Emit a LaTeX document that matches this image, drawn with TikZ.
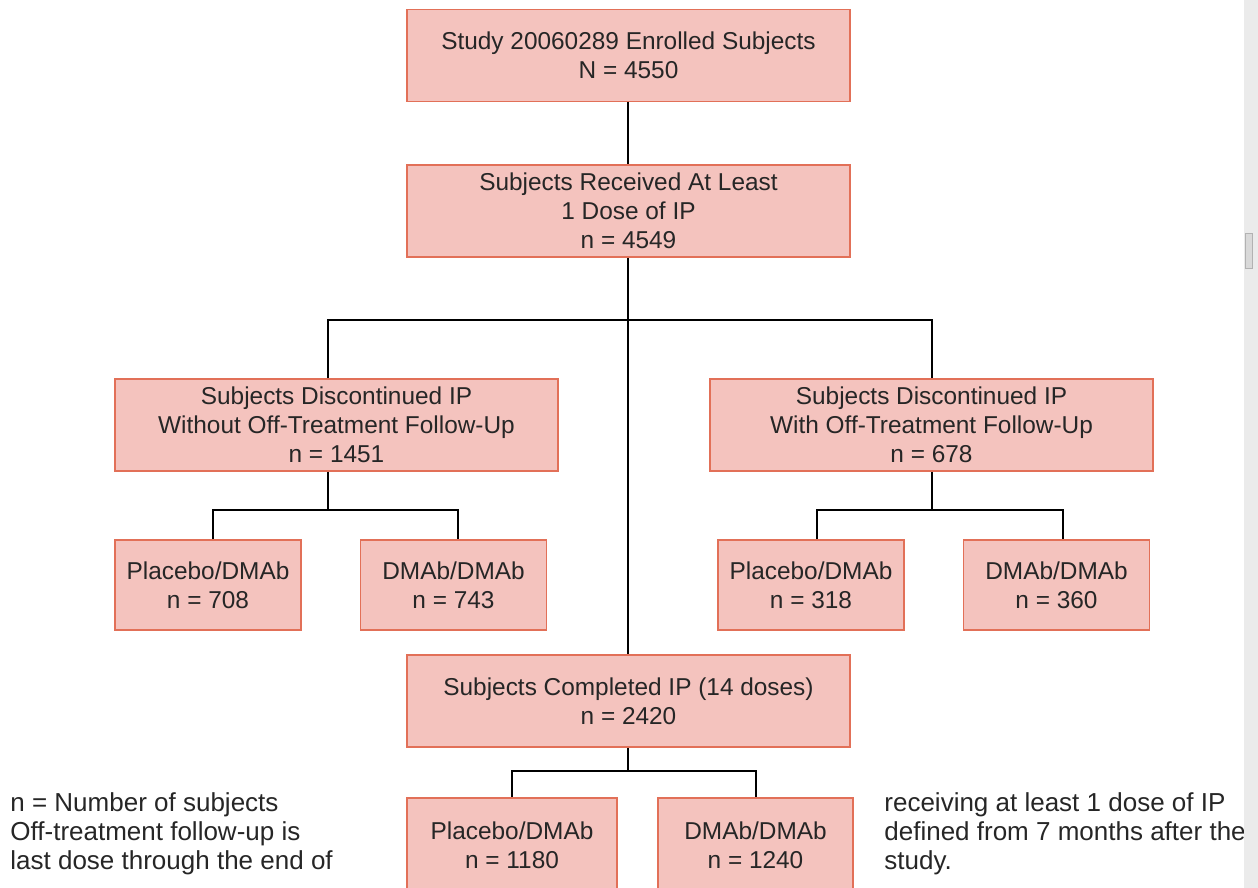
\documentclass[tikz,border=0pt]{standalone}
\usepackage{fontspec}
\setmainfont{Liberation Sans}
\usetikzlibrary{positioning, calc}

\definecolor{boxfill}{RGB}{244,195,190}
\definecolor{boxline}{RGB}{226,112,88}

\begin{document}
\begin{tikzpicture}[
    x=0.5pt, y=-0.5pt,
    box/.style   = {rectangle, draw=boxline, fill=boxfill, line width=0.8pt,
                    minimum width=221.5pt, minimum height=46pt, inner sep=2pt,
                    align=center, text=black!85,
                    font=\fontsize{12.2}{14.5}\selectfont},
    small/.style = {box, minimum width=93pt, minimum height=45pt},
    conn/.style  = {draw=black, line width=1pt},
    note/.style  = {font=\fontsize{13}{14.5}\selectfont, text=black!85,
                    align=left, inner sep=0pt, anchor=north west},
]
\useasboundingbox (0,0) rectangle (1258,888);

%% ---- Top of the flow ----
\node[box] (enrolled) at (628.5, 55.5)
    {Study 20060289 Enrolled Subjects\\N = 4550};
\node[box] (received) at (628.5, 211)
    {Subjects Received At Least\\1 Dose of IP\\n = 4549};

%% ---- Discontinued arms ----
\node[box] (discwo) at (336.5, 425)
    {Subjects Discontinued IP\\Without Off-Treatment Follow-Up\\n = 1451};
\node[box] (discw) at (931.5, 425)
    {Subjects Discontinued IP\\With Off-Treatment Follow-Up\\n = 678};

\node[small] (pdwo) at (208, 585)    {Placebo/DMAb\\n = 708};
\node[small] (ddwo) at (453.5, 585)  {DMAb/DMAb\\n = 743};
\node[small] (pdw)  at (811, 585)    {Placebo/DMAb\\n = 318};
\node[small] (ddw)  at (1056.5, 585) {DMAb/DMAb\\n = 360};

%% ---- Completed arm ----
\node[box] (completed) at (628.5, 701)
    {Subjects Completed IP (14 doses)\\n = 2420};
\node[small, minimum width=105pt, minimum height=47.5pt] (pdc) at (512, 845.5)
    {Placebo/DMAb\\n = 1180};
\node[small, minimum width=97.5pt, minimum height=47.5pt] (ddc) at (755.5, 845.5)
    {DMAb/DMAb\\n = 1240};

%% ---- Connectors ----
\coordinate (split)  at (628, 320);
\coordinate (splitL) at (328, 510);
\coordinate (splitR) at (932, 510);
\coordinate (splitC) at (628, 771);

\draw[conn] (enrolled.south -| split) -- (received.north -| split);
\draw[conn] (received.south -| split) -- (completed.north -| split);
\draw[conn] (discwo.north -| splitL) |- (split) -| (discw.north -| splitR);

\draw[conn] (discwo.south -| splitL) -- (splitL);
\draw[conn] ([xshift=2.25pt]pdwo.north) |- (splitL) -| ([xshift=2.25pt]ddwo.north);

\draw[conn] (discw.south -| splitR) -- (splitR);
\draw[conn] ([xshift=3pt]pdw.north) |- (splitR) -| ([xshift=3pt]ddw.north);

\draw[conn] (completed.south -| splitC) -- (splitC);
\draw[conn] (pdc.north) |- (splitC) -| (ddc.north);

%% ---- Footnotes ----
\node[note] (legend) at (10, 792)
    {n = Number of subjects\\Off-treatment follow-up is\\last dose through the end of};
\node[note] (legend2) at (884, 792)
    {receiving at least 1 dose of IP\\defined from 7 months after the\\study.};

%% ---- Window edge ----
\fill[black!8] (1244,0) rectangle (1258,888);
\draw[black!30, fill=black!15] (1245,233) rectangle (1252,268);

\end{tikzpicture}
\end{document}
